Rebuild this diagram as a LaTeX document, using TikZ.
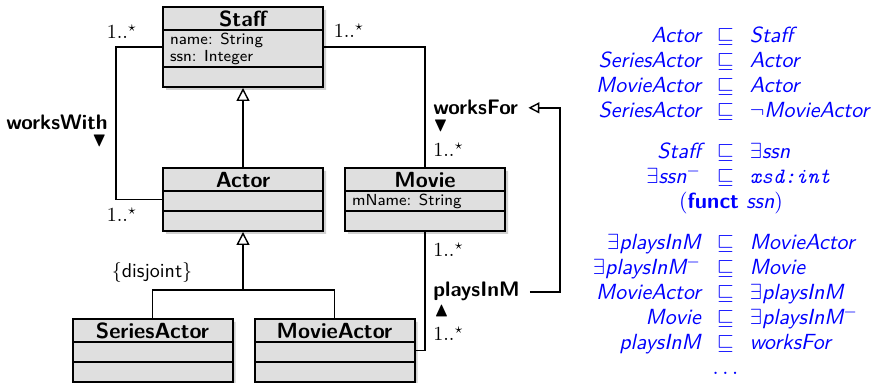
\documentclass[11pt,tikz,border=0pt]{standalone}
\usepackage{amssymb}
\usetikzlibrary{shapes,positioning,shadows,arrows.meta,calc}

% compartments of a class box, all of one fixed width
% (the split adds the line width to every compartment)
\newcommand{\titlestrut}{\rule[-1pt]{0pt}{10.5pt}}
\newcommand{\slotstrut}{\rule[-2pt]{0pt}{9pt}}
\newcommand{\attrfont}{\fontsize{8}{8.3}\selectfont}
\newcommand{\classtitle}[1]{\makebox[73pt]{\titlestrut\bfseries #1}}
\newcommand{\classslot}[1]{\makebox[73pt][l]{\attrfont\slotstrut #1}}
\newcommand{\twoslots}[2]{\vbox{\offinterlineskip
  \hbox to 73pt{\attrfont\rule[-0.8pt]{0pt}{7.8pt}#1\hfil}
  \hbox to 73pt{\attrfont\rule[-2.2pt]{0pt}{8.86pt}#2\hfil}}}
\newcommand{\many}{$1..^{\star}$}

\begin{document}
\begin{tikzpicture}[
      x=0.5pt, y=-0.5pt,
      umlclass/.style = {rectangle split, rectangle split parts=3, draw, line width=1pt,
        fill=gray!25, drop shadow={shadow xshift=1.5pt, shadow yshift=-1.5pt, fill=black!18, opacity=1},
        inner xsep=3.5pt, inner ysep=0pt, font=\sffamily},
      mult/.style = {inner sep=0pt, font=\small},
      rel/.style = {inner sep=0pt, font=\fontsize{10.5}{12}\selectfont\sffamily\bfseries},
      relmark/.style = {inner sep=0pt, font=\small},
      assoc/.style = {line width=0.7pt},
      gen/.style = {assoc, -{Triangle[open, length=6.5pt, width=6.5pt]}},
      incl/.style = {assoc, -{Triangle[open, length=5.5pt, width=5.5pt]}, shorten <=5pt, shorten >=5pt},
      axioms/.style = {inner sep=0pt, text=blue, font=\sffamily\itshape}
      ]
      \useasboundingbox (0,0) rectangle (877,383);

      % classes
      \node[umlclass, anchor=north] (staff) at (243,6)
        {\classtitle{Staff}\nodepart{two}\twoslots{name: String}{ssn: Integer}\nodepart{three}\classslot{}};
      \node[umlclass, below=39.5pt of staff] (actor)
        {\classtitle{Actor}\nodepart{two}\classslot{}\nodepart{three}\classslot{}};
      \node[umlclass, right=10pt of actor] (movie)
        {\classtitle{Movie}\nodepart{two}\classslot{mName: String}\nodepart{three}\classslot{}};
      \node[umlclass, below=43pt of actor, xshift=-45.25pt] (seriesactor)
        {\classtitle{SeriesActor}\nodepart{two}\classslot{}\nodepart{three}\classslot{}};
      \node[umlclass, right=10pt of seriesactor] (movieactor)
        {\classtitle{MovieActor}\nodepart{two}\classslot{}\nodepart{three}\classslot{}};

      % generalisations
      \draw[gen] (actor.north) -- (staff.south);
      \coordinate (disj) at ($(actor.south)+(0,58)$);
      \draw[assoc] (seriesactor.north) |- (disj) -| (movieactor.north);
      \draw[gen] (disj) -- (actor.south);
      \node[anchor=base, inner sep=0pt, font=\small] (disjlabel) at (152,278) {$\{$\textsf{disjoint}$\}$};

      % associations
      \draw[assoc] (staff.west) -- ++(-46,0) |- (actor.west);
      \draw[assoc] (staff.east) -| (movie.north);
      \draw[assoc] (movieactor.east) -| (movie.south);

      \node[mult, anchor=base] (ww1) at (122,39) {\many};
      \node[mult, anchor=base] (ww2) at (122,222) {\many};
      \node[rel, anchor=base east] (wwlabel) at (108,130) {worksWith};
      \node[relmark, anchor=base east] (wwdir) at (107,147) {$\blacktriangledown$};

      \node[mult, anchor=base] (wf1) at (349,38) {\many};
      \node[mult, anchor=base west] (wf2) at (433,157) {\many};
      \node[rel, anchor=base west] (wflabel) at (433,115) {worksFor};
      \node[relmark, anchor=base west] (wfdir) at (433,132) {$\blacktriangledown$};

      \node[mult, anchor=base west] (pi1) at (433,257) {\many};
      \node[mult, anchor=base west] (pi2) at (433,341) {\many};
      \node[rel, anchor=base west] (pilabel) at (433,297) {playsInM};
      \node[relmark, anchor=base west] (pidir) at (434,317) {$\blacktriangle$};

      % playsInM is included in worksFor
      \draw[incl] (pilabel.east) -- ++(40,0) |- (wflabel.east);

      % the matching DL-Lite axioms
      \node[axioms, anchor=north] (tbox) at (731,24.5) {%
        \renewcommand{\arraystretch}{0.92}%
        \begin{tabular}{@{}r@{\hspace{8pt}}c@{\hspace{8pt}}l@{}}
          Actor & $\sqsubseteq$ & Staff\\
          SeriesActor & $\sqsubseteq$ & Actor\\
          MovieActor & $\sqsubseteq$ & Actor\\
          SeriesActor & $\sqsubseteq$ & $\neg$MovieActor\\[8pt]
          Staff & $\sqsubseteq$ & $\exists$ssn\\
          $\exists$ssn$^-$ & $\sqsubseteq$ & \texttt{xsd:int}\\
          \multicolumn{3}{c}{$($\textbf{\upshape funct} ssn$)$}\\[8pt]
          $\exists$playsInM & $\sqsubseteq$ & MovieActor\\
          $\exists$playsInM$^-$ & $\sqsubseteq$ & Movie\\
          MovieActor & $\sqsubseteq$ & $\exists$playsInM\\
          Movie & $\sqsubseteq$ & $\exists$playsInM$^-$\\
          playsInM & $\sqsubseteq$ & worksFor\\
          & \makebox[0pt]{$\ldots$} &
        \end{tabular}};
\end{tikzpicture}
\end{document}
